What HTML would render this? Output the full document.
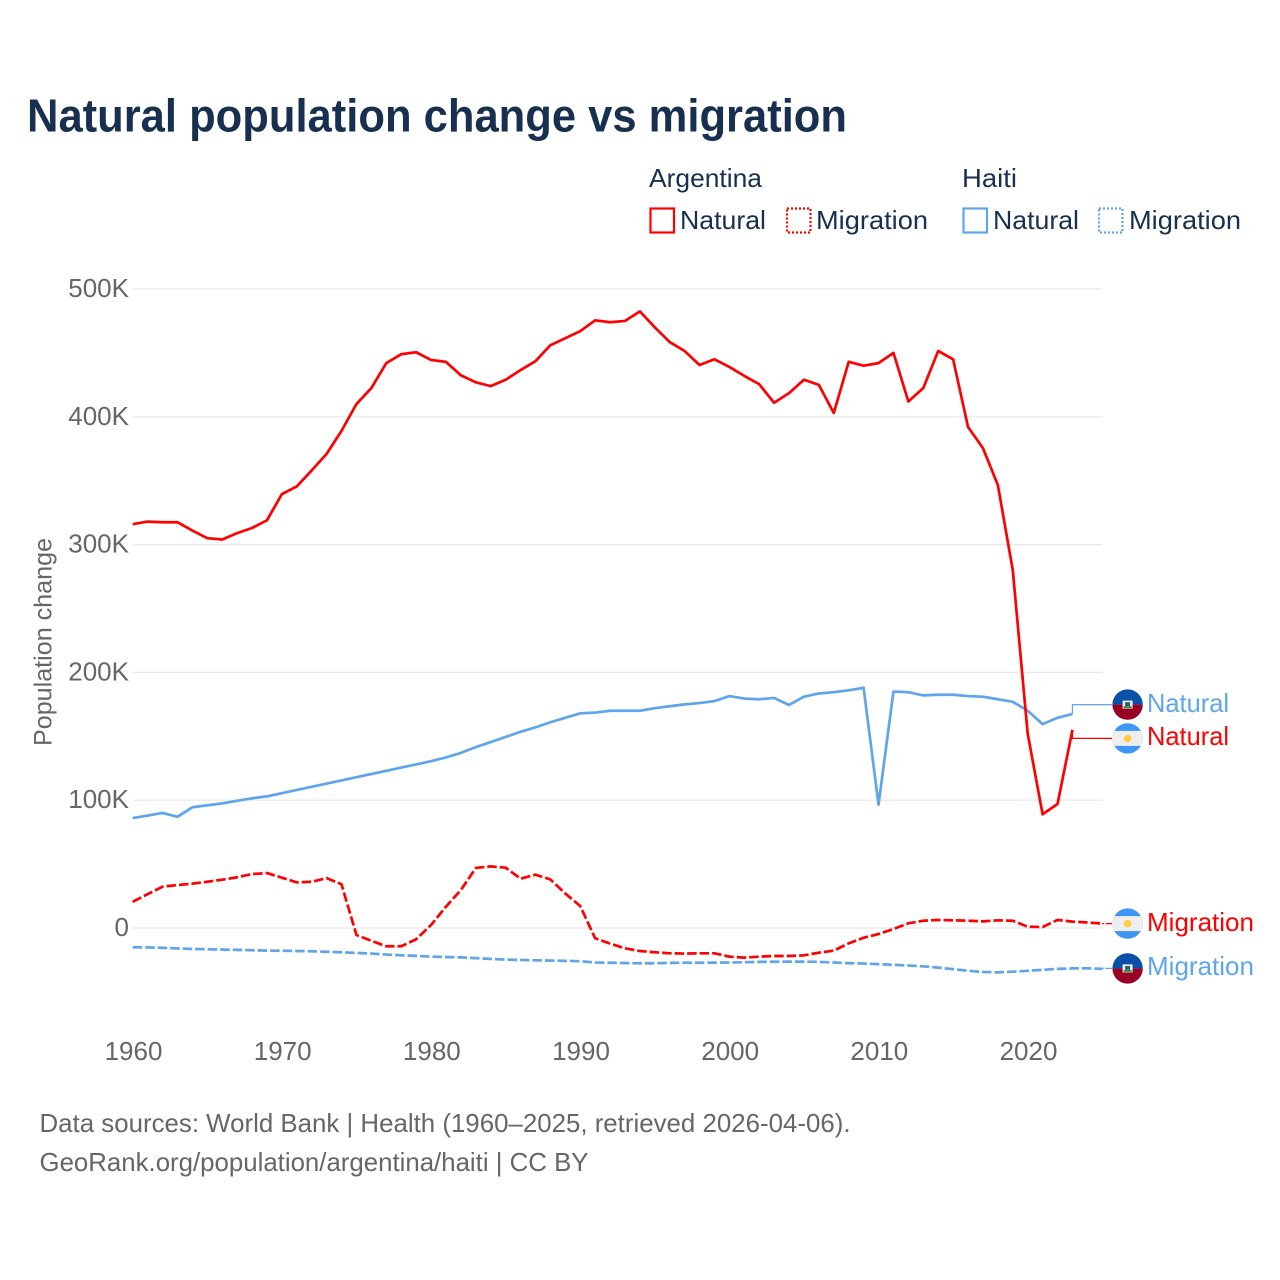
<!DOCTYPE html>
<html lang="en">
<head>
<meta charset="utf-8">
<title>Natural population change vs migration</title>
<style>
html,body{margin:0;padding:0;background:#fff;}
svg{display:block;font-family:"Liberation Sans",sans-serif;}
</style>
</head>
<body>
<svg id="chart" width="1280" height="1280" viewBox="0 0 1280 1280" xmlns="http://www.w3.org/2000/svg">
  <defs>
    <clipPath id="flag-clip"><circle cx="0" cy="0" r="15.2"/></clipPath>
  </defs>
  <rect width="1280" height="1280" fill="#fff"/>
  <text x="27" y="131.5" font-size="46" font-weight="700" fill="#18304f" textLength="820" lengthAdjust="spacingAndGlyphs">Natural population change vs migration</text>

  <g font-size="26" fill="#18304f">
    <text x="649" y="187" textLength="113" lengthAdjust="spacingAndGlyphs">Argentina</text>
    <text x="962" y="187" textLength="55" lengthAdjust="spacingAndGlyphs">Haiti</text>
    <rect x="650.5" y="208.5" width="23.5" height="24" fill="none" stroke="#ff0000" stroke-width="2.2"/>
    <text x="680" y="229" textLength="86" lengthAdjust="spacingAndGlyphs">Natural</text>
    <rect x="787" y="208.5" width="23.5" height="24" fill="none" stroke="#ff0000" stroke-width="2.2" stroke-dasharray="2 2"/>
    <text x="816" y="229" textLength="112" lengthAdjust="spacingAndGlyphs">Migration</text>
    <rect x="963.5" y="208.5" width="23.5" height="24" fill="none" stroke="#5ea5ec" stroke-width="2.2"/>
    <text x="993" y="229" textLength="86" lengthAdjust="spacingAndGlyphs">Natural</text>
    <rect x="1099" y="208.5" width="23.5" height="24" fill="none" stroke="#5ea5ec" stroke-width="2.2" stroke-dasharray="2 2"/>
    <text x="1129" y="229" textLength="112" lengthAdjust="spacingAndGlyphs">Migration</text>
  </g>

  <g id="grid"></g>
  <g id="y-ticks"></g>
  <g id="x-ticks"></g>
  <text transform="translate(51.5,746) rotate(-90)" font-size="25" fill="#666666" textLength="208" lengthAdjust="spacingAndGlyphs">Population change</text>
  <g id="series"></g>

  <g transform="translate(1127.6,704.6)">
    <g clip-path="url(#flag-clip)">
      <rect x="-16" y="-16" width="32" height="16" fill="#0a4fa8"/><rect x="-16" y="0" width="32" height="16" fill="#9a0026"/>
      <rect x="-5" y="-4" width="10" height="8" fill="#f2f2f2"/><rect x="-2.5" y="-2.5" width="5" height="4" fill="#2d5f7a"/><rect x="-4" y="1.5" width="8" height="2" fill="#3f8f3f"/>
    </g>
  </g>
  <g transform="translate(1127.6,738.4)">
    <g clip-path="url(#flag-clip)">
      <rect x="-16" y="-16" width="32" height="32" fill="#3d96f5"/><rect x="-16" y="-7.5" width="32" height="15" fill="#eeeeee"/>
      <circle r="3.8" fill="#ffce3a"/>
    </g>
  </g>
  <g transform="translate(1127.6,923.6)">
    <g clip-path="url(#flag-clip)">
      <rect x="-16" y="-16" width="32" height="32" fill="#3d96f5"/><rect x="-16" y="-7.5" width="32" height="15" fill="#eeeeee"/>
      <circle r="3.8" fill="#ffce3a"/>
    </g>
  </g>
  <g transform="translate(1127.6,968.4)">
    <g clip-path="url(#flag-clip)">
      <rect x="-16" y="-16" width="32" height="16" fill="#0a4fa8"/><rect x="-16" y="0" width="32" height="16" fill="#9a0026"/>
      <rect x="-5" y="-4" width="10" height="8" fill="#f2f2f2"/><rect x="-2.5" y="-2.5" width="5" height="4" fill="#2d5f7a"/><rect x="-4" y="1.5" width="8" height="2" fill="#3f8f3f"/>
    </g>
  </g>

  <g font-size="26">
    <text x="1147" y="712" fill="#5ea5ec" textLength="82" lengthAdjust="spacingAndGlyphs">Natural</text>
    <text x="1147" y="745" fill="#ff0000" textLength="82" lengthAdjust="spacingAndGlyphs">Natural</text>
    <text x="1147" y="931" fill="#ff0000" textLength="107" lengthAdjust="spacingAndGlyphs">Migration</text>
    <text x="1147" y="975" fill="#5ea5ec" textLength="107" lengthAdjust="spacingAndGlyphs">Migration</text>
  </g>

  <text x="39.5" y="1132" font-size="26" fill="#666666" textLength="811" lengthAdjust="spacingAndGlyphs">Data sources: World Bank | Health (1960–2025, retrieved 2026-04-06).</text>
  <text x="39.5" y="1171" font-size="26" fill="#666666" textLength="549" lengthAdjust="spacingAndGlyphs">GeoRank.org/population/argentina/haiti | CC BY</text>
</svg>
<script>
// Data, in thousands of people per year, starting at startYear.
const startYear = 1960;
const xTickYears = [1960, 1970, 1980, 1990, 2000, 2010, 2020];
const yTickValues = [0, 100, 200, 300, 400, 500];
const yTickLabels = ['0', '100K', '200K', '300K', '400K', '500K'];

const argentinaNatural = [316, 318, 317.5, 317.5, 311, 305, 304, 309, 313, 319,
  339.5, 345.5, 358, 371, 389, 410, 422.5, 442, 449, 450.5,
  444.5, 443, 432.5, 427, 424, 429, 436.5, 443.5, 456, 461.5,
  467, 475.5, 474, 475, 482.5, 470, 458.5, 451.5, 440.5, 445,
  439, 432, 425.5, 411, 418.5, 429, 425, 403, 443, 440,
  442, 450, 412, 422.5, 451.5, 445, 392, 375.5, 346.5, 280,
  152, 89, 97, 155];

const haitiNatural = [86, 88, 90, 87, 94.5, 96, 97.5, 99.5, 101.5, 103,
  105.5, 108, 110.5, 113, 115.5, 118, 120.5, 123, 125.5, 128,
  130.5, 133.5, 137, 141.5, 145.5, 149.5, 153.5, 157, 161, 164.5,
  168, 168.5, 170, 170, 170, 172, 173.5, 175, 176, 177.5,
  181.5, 179.5, 179, 180, 174.5, 181, 183.5, 184.5, 186, 188,
  96.5, 185, 184.5, 182, 182.5, 182.5, 181.5, 181, 179, 177,
  170, 159.5, 164.5, 167.5];

const argentinaMigration = [20.5, 26.5, 32.3, 33.6, 34.7, 36.2, 37.8, 39.7, 42.2, 43,
  39.4, 35.7, 36.2, 39, 34.2, -5.5, -10, -14.3, -14.3, -8.8,
  2.3, 16.7, 29.7, 47, 48.2, 47.2, 38.6, 41.7, 38, 27,
  17.2, -8, -12.2, -15.9, -18, -19, -19.8, -20, -19.8, -19.8,
  -22.4, -23.2, -22.4, -21.9, -21.9, -21.4, -19.3, -17.7, -12, -7.6,
  -4.7, -0.8, 3.7, 5.7, 6.3, 6, 5.7, 5.2, 6, 5.7,
  1, 0.8, 6.3, 5, 4.3, 3.5];

const haitiMigration = [-15.1, -15.2, -15.5, -16, -16.4, -16.6, -16.9, -17.1, -17.4, -17.7,
  -17.8, -18, -18.2, -18.6, -19, -19.5, -20, -20.8, -21.3, -21.8,
  -22.4, -22.7, -23, -23.6, -24.2, -24.7, -25, -25.3, -25.5, -25.7,
  -26, -27, -27.2, -27.4, -27.6, -27.6, -27.3, -27.2, -27.2, -27.1,
  -27, -26.8, -26.5, -26.4, -26.3, -26.3, -26.5, -27, -27.5, -27.8,
  -28.3, -28.8, -29.4, -30, -31, -32.2, -33.5, -34.4, -34.7, -34.2,
  -33.5, -32.7, -32, -31.6, -31.5, -32];

// Axis functions
function xScale(year) { return 132.7 + (year - 1960) * (895 / 60); }
function yScale(value) { return 928 - value * 1.278; }

const SVG_NS = 'http://www.w3.org/2000/svg';
const gridGroup = document.getElementById('grid');
const yTickGroup = document.getElementById('y-ticks');
const xTickGroup = document.getElementById('x-ticks');
const seriesGroup = document.getElementById('series');

yTickValues.forEach(function (value, i) {
  const line = document.createElementNS(SVG_NS, 'line');
  
  
  line.setAttribute('x1', 133);
  line.setAttribute('x2', 1102.5);
  line.setAttribute('y1', yScale(value));
  line.setAttribute('y2', yScale(value));
  line.setAttribute('stroke', '#e8e8e8');
  line.setAttribute('stroke-width', 1.2);
  gridGroup.appendChild(line);

  const label = document.createElementNS(SVG_NS, 'text');
  
  
  label.setAttribute('x', 129);
  label.setAttribute('y', yScale(value) + 8);
  label.setAttribute('text-anchor', 'end');
  label.setAttribute('font-size', 26);
  label.setAttribute('fill', '#666666');
  label.textContent = yTickLabels[i];
  yTickGroup.appendChild(label);
});

xTickYears.forEach(function (year) {
  const label = document.createElementNS(SVG_NS, 'text');
  
  
  label.setAttribute('x', xScale(year) + 0.8);
  label.setAttribute('y', 1060);
  label.setAttribute('text-anchor', 'middle');
  label.setAttribute('font-size', 26);
  label.setAttribute('fill', '#666666');
  label.textContent = String(year);
  xTickGroup.appendChild(label);
});

function linePath(values) {
  return values.map(function (v, i) {
    return (i ? 'L' : 'M') + xScale(startYear + i).toFixed(2) + ' ' + yScale(v).toFixed(2);
  }).join(' ');
}

function drawSeries(name, values, color, dash, flagY) {
  const path = document.createElementNS(SVG_NS, 'path');
  
  
  path.setAttribute('d', linePath(values));
  path.setAttribute('fill', 'none');
  path.setAttribute('stroke', color);
  path.setAttribute('stroke-width', 2.7);
  path.setAttribute('stroke-linejoin', 'round');
  if (dash) path.setAttribute('stroke-dasharray', dash);
  seriesGroup.appendChild(path);

  const lastIndex = values.length - 1;
  const lastX = xScale(startYear + lastIndex);
  const lastY = yScale(values[lastIndex]);
  const leader = document.createElementNS(SVG_NS, 'path');
  
  
  leader.setAttribute('d', 'M' + lastX + ' ' + lastY + ' V' + flagY + ' H1112');
  leader.setAttribute('fill', 'none');
  leader.setAttribute('stroke', color);
  leader.setAttribute('stroke-width', 1.2);
  if (dash) leader.setAttribute('stroke-dasharray', '2 1.5 6 0');
  seriesGroup.appendChild(leader);
}

drawSeries('line-haiti-natural', haitiNatural, '#5ea5ec', null, 704.6);
drawSeries('line-haiti-migration', haitiMigration, '#5ea5ec', '9.5 3', 968.4);
drawSeries('line-argentina-natural', argentinaNatural, '#ff0000', null, 738.4);
drawSeries('line-argentina-migration', argentinaMigration, '#ff0000', '9.5 3', 923.6);
</script>
</body>
</html>
